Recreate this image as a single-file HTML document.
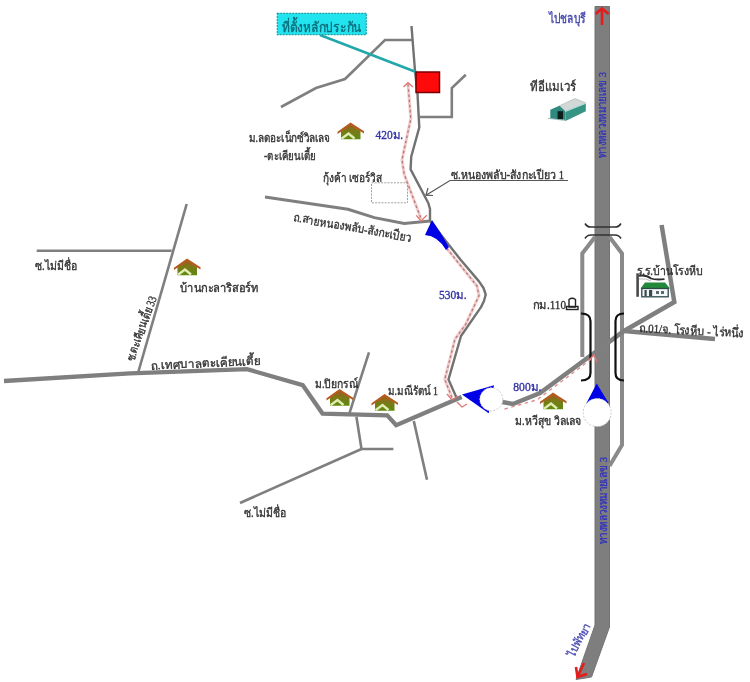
<!DOCTYPE html>
<html><head><meta charset="utf-8">
<style>
html,body{margin:0;padding:0;background:#fff;width:750px;height:682px;overflow:hidden}
svg{position:absolute;left:0;top:0;display:block;filter:blur(0.35px)}
text{font-family:"Liberation Serif",serif;}
</style></head><body>
<svg width="750" height="682" viewBox="0 0 750 682">
<g fill="none" stroke="#7f7f7f" stroke-linejoin="miter" stroke-linecap="butt">
  <!-- thin roads -->
  <polyline stroke-width="2.6" points="281,107 316,88 345,79 385,40 412,40"/>
  <polyline stroke-width="2.4" stroke="#727272" stroke-linejoin="round" points="411.5,26 415,71 417.4,92 419.3,127.4 411.2,156.8 410.6,169.4 428.4,203.2 430,209 430,221 460.6,259.7 479,281.4 483.5,288 485.7,294.5 484,301 481,307.1 461,336 448.5,379.4 456.5,397.7"/>
  <polyline stroke-width="2.6" points="419,117 451.8,117 451.8,88 465.8,74.7"/>
  <polyline stroke-width="3" points="265,197 348,209.2 374.4,217.6 404.2,223.4 430,221"/>
  <polyline stroke-width="2.6" points="186.7,204 138.3,372"/>
  <polyline stroke-width="2.6" points="36.7,250.7 171.7,250.7"/>
  <polyline stroke-width="2.6" points="349.4,413.4 369,352.4"/>
  <polyline stroke-width="2.6" points="356.4,416.8 361.5,449 393.4,449"/>
  <polyline stroke-width="2.6" points="361.5,449 240,503"/>
  <polyline stroke-width="2.6" points="413.8,421 427,479.8"/>
  <!-- main thick road -->
  <polyline stroke-width="4.3" points="4,381 130,373.4 247,369.2 302.7,385.1 322.5,413.6 387.2,415.4 396.2,425.2 461.7,397"/>
</g>
<!-- highway -->
<polygon points="595,6.5 609.5,6.5 609.5,627 591.5,677 576,679.5 595,625" fill="#7e7e7e" stroke="#737373" stroke-width="1"/>
<g fill="none" stroke="#8a8a8a" stroke-width="4">
  <polyline points="595,237 582.3,253.5 582.3,357"/>
  <polyline points="609.5,237 622,253.5 622,445 609.5,466"/>
</g>
<!-- road through interchange -->
<g fill="none" stroke="#7f7f7f" stroke-width="4.5">
  <polyline points="502,402 513,404 540,393 624,331 674.3,302 661.6,225"/>
  <polyline points="624,331 715,339"/>
</g>
<!-- bridge marks -->
<g fill="none" stroke="#333" stroke-width="1.6">
  <path d="M585,223.5 Q587,227 591,227 L615,227 Q619,227 621,223.5"/>
  <path d="M585,238.5 Q587,235 591,235 L615,235 Q619,235 621,238.5"/>
</g>
<!-- brackets -->
<g fill="none" stroke="#111" stroke-width="2.2">
  <path d="M581,313.5 Q590.5,313.5 590.5,321 L590.5,373 Q590.5,380.5 581,380.5"/>
  <path d="M624,313.5 Q615.5,313.5 615.5,321 L615.5,373 Q615.5,380.5 624,380.5"/>
</g>
<!-- red dashed routes -->
<g fill="none" stroke="#f4caca" stroke-width="3" stroke-linejoin="round">
  <polyline points="408,84 410.8,118.7 402,159.7 404.2,174.2 421.1,219"/>
  <polyline points="446.7,248.3 477,286 479,295.7 465.7,324.3 455,339 444.8,379.4 452,397.7"/>
</g>
<g fill="none" stroke="#b07c7c" stroke-width="1.3" stroke-dasharray="2.6 2.6" stroke-linejoin="round">
  <polyline points="408,84 410.8,118.7 402,159.7 404.2,174.2 421.1,219"/>
  <polyline points="446.7,248.3 477,286 479,295.7 465.7,324.3 455,339 444.8,379.4 452,397.7"/>
</g>
<polyline points="504.5,409 536.8,400 594,357" fill="none" stroke="#e09090" stroke-width="1.4" stroke-dasharray="3.5 3.5"/>
<g fill="none" stroke="#e07474" stroke-width="1.3">
  <polyline points="403.5,87 408,82.7 413,87"/>
  <polyline points="416.3,215.3 421,221 426.8,215.3"/>
  <polyline points="447,394 452,400 458,396"/>
  <polyline points="457,402 462,407 467,404"/>
  <polyline points="589,360 594,355 597,362"/>
</g>
<!-- dashed box -->
<rect x="371.5" y="182.8" width="36" height="20" fill="none" stroke="#a0a0a0" stroke-width="1" stroke-dasharray="2 1.2"/>
<!-- cyan label -->
<line x1="320" y1="35" x2="416" y2="72" stroke="#22a8aa" stroke-width="2.6"/>
<rect x="277.3" y="13.3" width="89" height="21.3" fill="#22e4ee" stroke="#1a9ea6" stroke-width="1.2" stroke-dasharray="2 1"/>
<!-- red square -->
<rect x="416" y="72" width="23.5" height="20.5" fill="#ff0a0a" stroke="#7a0000" stroke-width="1.5"/>
<!-- label arrow -->
<g fill="none" stroke="#555" stroke-width="1.2">
  <polyline points="568,180.5 450,180.5 426,195.2"/>
  <polyline points="428,188 426,195.2 433,195.5"/>
</g>
<!-- blue wedge -->
<path d="M432,220 L425,235 Q438,236 446,250 L449,247 L440,232 Z" fill="#0000e6"/>
<!-- blue triangle + circle left -->
<polygon points="462,394.5 494,385.3 488.7,413.3" fill="#0000e6"/>
<circle cx="491.3" cy="399.3" r="11.5" fill="#fff" stroke="#c8c8c8" stroke-width="1" stroke-dasharray="2 1.5"/>
<!-- blue triangle + circle highway -->
<polygon points="596.7,383.5 586,404 608.6,403" fill="#0000e6"/>
<circle cx="597.2" cy="412.6" r="14" fill="#fff" stroke="#c8c8c8" stroke-width="1" stroke-dasharray="2 1.5"/>
<!-- red arrows on highway -->
<g fill="none" stroke="#e51c1c" stroke-width="2.6">
  <line x1="602" y1="9" x2="602" y2="25"/>
  <polyline points="595.5,14 602,8.5 608.5,14"/>
  <line x1="577.5" y1="677" x2="584" y2="663"/>
  <polyline points="576,667 577.5,677 587,674"/>
</g>

<!-- house icons -->
<defs>
  <linearGradient id="hg" x1="0" y1="0" x2="0" y2="1">
    <stop offset="0" stop-color="#a05a1c"/>
    <stop offset="0.45" stop-color="#7a7a16"/>
    <stop offset="1" stop-color="#5e8a10"/>
  </linearGradient>
  <g id="house">
    <polygon points="4,9 13.5,2.5 23.5,9 23.5,17.3 4,17.3" fill="url(#hg)"/>
    <polygon points="0.5,9.8 13.5,0.6 27,9.2 27,11.6 13.5,3.2 0.5,12" fill="#b45a1e"/>
    <polyline points="4.5,16.8 11.5,11.5 17.5,16.5" fill="none" stroke="#e0ecb0" stroke-width="2.4"/>
  </g>
</defs>
<use href="#house" x="337" y="122"/>
<use href="#house" x="173.5" y="258"/>
<use href="#house" x="326" y="388.5"/>
<use href="#house" x="371" y="393.5"/>
<use href="#house" x="539.5" y="392"/>

<!-- warehouse -->
<polygon points="559.4,105.8 575,98.5 586,103 565.3,111.5" fill="#d2d8d8" stroke="#a8b4b4" stroke-width="0.6"/>
<polygon points="550.3,109.8 559.4,105.8 565.3,111.3 565.5,120 550.3,118.5" fill="#2e8a7e"/>
<polygon points="565.3,111.3 585.8,103.2 585.8,111.3 565.5,121" fill="#369484"/>
<line x1="565.3" y1="111.5" x2="586" y2="103.2" stroke="#bfe6de" stroke-width="1"/>
<rect x="557.6" y="111.2" width="5.4" height="8" fill="#0e1c1c"/>
<line x1="548" y1="118.3" x2="566" y2="120.5" stroke="#8aa" stroke-width="0.8"/>
<!-- school icon -->
<rect x="636.3" y="273.3" width="2.6" height="23.5" fill="#4a4a4a"/>
<path d="M639,275.8 Q646,274.5 651,278.5 Q655,280 664.5,279.2" fill="none" stroke="#2e2e2e" stroke-width="1.8"/>
<path d="M639,279 Q646,278 651,281" fill="none" stroke="#bbb" stroke-width="1"/>
<polygon points="640.5,288.5 645,282.6 665,282.6 670,288.5" fill="#22883a"/>
<rect x="641.8" y="288.5" width="26.4" height="8.3" fill="#f4f8f8" stroke="#2c4848" stroke-width="1.3"/>
<rect x="644.5" y="290" width="2.2" height="6" fill="#3a4a4a"/>
<rect x="649" y="290" width="3.2" height="6" fill="#3a4a4a"/>
<rect x="656" y="291" width="3" height="3" fill="#5a6a6a"/>
<rect x="661" y="291" width="3" height="3" fill="#5a6a6a"/>
<!-- milestone -->
<path d="M569,307 L569,299.5 Q572,297 575.5,299.5 L575.5,307 Z" fill="none" stroke="#222" stroke-width="1.4"/>
<rect x="566.5" y="306.5" width="11.5" height="3" fill="none" stroke="#222" stroke-width="1.4"/>

<!-- texts -->
<g fill="#333333" font-size="12" font-weight="normal" stroke="#333333" stroke-width="0.35">
  <text stroke="#0e6a78" x="282" y="32" fill="#0e6a78" font-size="14" textLength="80" lengthAdjust="spacingAndGlyphs">ที่ตั้งหลักประกัน</text>
  <text stroke="#4545b0" x="548.5" y="23" fill="#4545b0" font-size="13" font-weight="normal" textLength="37" lengthAdjust="spacingAndGlyphs">ไปชลบุรี</text>
  <text x="530" y="91" font-size="13" textLength="46" lengthAdjust="spacingAndGlyphs">ทีอีแมเวร์</text>
  <text x="451" y="178.5" font-size="12" textLength="113" lengthAdjust="spacingAndGlyphs">ซ.หนองพลับ-สังกะเปียว 1</text>
  <text x="249" y="142" font-size="12" textLength="81" lengthAdjust="spacingAndGlyphs">ม.ลดอะเน็กซ์วิลเลจ</text>
  <text x="264" y="159.5" font-size="12" textLength="52" lengthAdjust="spacingAndGlyphs">-ตะเคียนเตี้ย</text>
  <text stroke="#3434a8" x="375.6" y="138.8" fill="#3434a8" font-size="12" font-weight="normal" textLength="27.6" lengthAdjust="spacingAndGlyphs">420ม.</text>
  <text x="323" y="182" font-size="12" textLength="58.6" lengthAdjust="spacingAndGlyphs">กุ้งค้า เซอร์วิส</text>
  <text x="0" y="0" font-size="12" textLength="120" lengthAdjust="spacingAndGlyphs" transform="translate(293,221) rotate(10)">ถ.สายหนองพลับ-สังกะเปียว</text>
  <text x="35" y="269.5" font-size="12" textLength="42" lengthAdjust="spacingAndGlyphs">ซ.ไม่มีชื่อ</text>
  <text x="180" y="291.5" font-size="12" textLength="78" lengthAdjust="spacingAndGlyphs">บ้านกะลาริสอร์ท</text>
  <text x="0" y="0" font-size="12" textLength="68" lengthAdjust="spacingAndGlyphs" transform="translate(133.5,362) rotate(-70)">ซ.ตะเคียนเตี้ย 33</text>
  <text x="0" y="0" font-size="12" textLength="110" lengthAdjust="spacingAndGlyphs" transform="translate(151,369.5) rotate(-2.5)">ถ.เทศบาลตะเคียนเตี้ย</text>
  <text stroke="#3434a8" x="439" y="298.8" fill="#3434a8" font-size="12" font-weight="normal" textLength="27.7" lengthAdjust="spacingAndGlyphs">530ม.</text>
  <text x="533" y="308.8" font-size="12" textLength="33" lengthAdjust="spacingAndGlyphs">กม.110</text>
  <text x="637" y="274.5" font-size="12" textLength="66" lengthAdjust="spacingAndGlyphs">ร.ร.บ้านโรงหีบ</text>
  <text x="0" y="0" font-size="12" textLength="105" lengthAdjust="spacingAndGlyphs" transform="translate(639,332) rotate(3)">ถ.01/จ. โรงหีบ - ไร่หนึ่ง</text>
  <text x="315" y="387.5" font-size="12" textLength="43" lengthAdjust="spacingAndGlyphs">ม.ปิยกรณ์</text>
  <text x="388" y="394.5" font-size="12" textLength="50" lengthAdjust="spacingAndGlyphs">ม.มณีรัตน์ 1</text>
  <text stroke="#3434a8" x="513.3" y="390.5" fill="#3434a8" font-size="12" font-weight="normal" textLength="28" lengthAdjust="spacingAndGlyphs">800ม.</text>
  <text x="515" y="425" font-size="12" textLength="66.5" lengthAdjust="spacingAndGlyphs">ม.หวีสุข วิลเลจ</text>
  <text x="244" y="516.5" font-size="12" textLength="42" lengthAdjust="spacingAndGlyphs">ซ.ไม่มีชื่อ</text>
  <text stroke="#3333bb" x="0" y="0" fill="#3333bb" font-size="11" textLength="86" lengthAdjust="spacingAndGlyphs" transform="translate(606,158) rotate(-90)">ทางหลวงหมายเลข 3</text>
  <text stroke="#3333bb" x="0" y="0" fill="#3333bb" font-size="11" textLength="87" lengthAdjust="spacingAndGlyphs" transform="translate(607,544) rotate(-90)">ทางหลวงหมายเลข 3</text>
  <text stroke="#4848b0" x="0" y="0" fill="#4848b0" font-size="11" font-weight="normal" textLength="36" lengthAdjust="spacingAndGlyphs" transform="translate(573.5,657.5) rotate(-61)">ไปพัทยา</text>
</g>
</svg>
</body></html>
